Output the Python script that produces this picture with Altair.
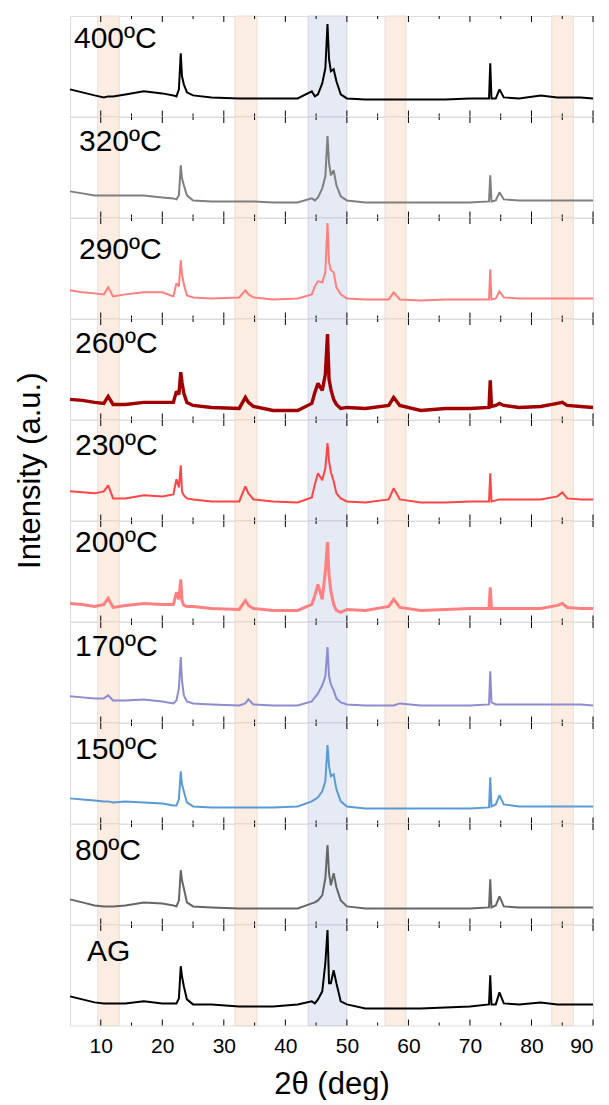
import altair as alt
import pandas as pd

# 2theta sampling positions (deg)
two_theta = [5, 7, 9, 10.5, 11.2, 12, 14, 17, 20, 21.8, 22.3, 22.7, 23.0, 23.2, 23.5, 24.0, 25, 28,
             32.5, 33.5, 34.0, 34.8, 38, 42, 44.3, 44.8, 45.3, 46.0, 46.5, 46.85, 47.1, 47.4, 47.85,
             48.3, 49.0, 50.0, 53, 56.8, 57.6, 58.6, 62, 66, 70, 73.1, 73.3, 73.5, 74.2, 74.8, 75.5,
             78, 81.5, 84.2, 85.0, 85.8, 88, 90]

labels = ["400ºC", "320ºC", "290ºC", "260ºC", "230ºC", "200ºC", "170ºC", "150ºC", "80ºC", "AG"]

i400 = [27, 24, 21, 19, 20, 20, 22, 25, 23, 21, 20, 27, 63, 40, 32, 24, 21, 19,
        18, 18, 18, 18, 18, 18, 25, 20, 22, 33, 48, 92, 57, 45, 47,
        35, 22, 18, 17, 17, 17, 17, 17, 17, 18, 18, 53, 18, 18, 27, 19,
        18, 21, 19, 19, 19, 19, 18]
i320 = [26, 24, 22, 22, 22, 22, 22, 22, 20, 19, 18, 22, 52, 39, 32, 22, 17, 16,
        16, 16, 16, 16, 15, 15, 19, 17, 20, 29, 41, 81, 54, 42, 47,
        32, 21, 17, 15, 15, 15, 15, 15, 15, 15, 16, 42, 16, 17, 25, 18,
        17, 17, 17, 17, 17, 17, 17]
i290 = [28, 26, 25, 24, 31, 22, 24, 26, 26, 22, 35, 32, 58, 44, 34, 23, 21, 20,
        21, 28, 24, 21, 19, 20, 24, 32, 37, 36, 46, 95, 56, 48, 46,
        31, 24, 20, 19, 19, 26, 19, 18, 19, 19, 19, 49, 19, 20, 27, 21,
        20, 20, 20, 20, 20, 20, 20]
i260 = [20, 19, 17, 16, 23, 15, 15, 17, 17, 17, 28, 25, 47, 37, 26, 17, 14, 12,
        11, 22, 17, 13, 9, 9, 16, 27, 36, 29, 45, 85, 40, 30, 20,
        15, 11, 12, 11, 14, 22, 14, 9, 11, 11, 12, 39, 13, 14, 16, 14,
        12, 13, 16, 17, 14, 13, 12]
i230 = [29, 28, 27, 29, 35, 22, 22, 25, 24, 26, 41, 33, 55, 29, 25, 22, 21, 19,
        19, 34, 27, 21, 19, 18, 23, 36, 47, 40, 52, 77, 59, 48, 39,
        27, 22, 19, 18, 21, 32, 21, 18, 18, 19, 19, 47, 19, 20, 21, 21,
        21, 21, 24, 28, 22, 21, 21]
i200 = [18, 17, 15, 17, 23, 14, 16, 18, 17, 17, 29, 22, 42, 21, 16, 15, 15, 13,
        12, 21, 16, 13, 11, 11, 17, 26, 37, 22, 50, 79, 46, 30, 17,
        11, 9, 12, 11, 15, 22, 14, 11, 12, 13, 13, 34, 13, 13, 13, 13,
        13, 13, 16, 18, 14, 13, 13]
i170 = [26, 25, 24, 24, 27, 22, 22, 23, 21, 19, 22, 34, 65, 42, 27, 21, 19, 18,
        17, 19, 23, 18, 17, 17, 21, 25, 29, 37, 46, 75, 46, 38, 32,
        24, 20, 18, 17, 17, 17, 19, 17, 17, 17, 18, 51, 20, 18, 18, 18,
        18, 18, 18, 18, 18, 18, 17]
i150 = [25, 24, 23, 22, 22, 21, 22, 21, 20, 18, 18, 24, 52, 39, 32, 21, 17, 16,
        16, 16, 16, 16, 16, 17, 22, 24, 26, 32, 42, 78, 57, 47, 49,
        34, 22, 17, 15, 15, 15, 15, 15, 15, 15, 16, 46, 17, 19, 28, 19,
        17, 17, 17, 17, 17, 17, 17]
i80 = [25, 22, 19, 18, 18, 18, 19, 22, 21, 19, 18, 24, 54, 44, 36, 22, 18, 17,
       16, 16, 16, 16, 16, 16, 21, 22, 24, 29, 46, 79, 51, 39, 51,
       37, 24, 18, 16, 16, 16, 16, 16, 16, 16, 17, 45, 17, 19, 28, 18,
       17, 17, 17, 17, 17, 17, 17]
iAG = [29, 26, 23, 22, 22, 22, 22, 24, 22, 22, 22, 27, 59, 49, 39, 26, 21, 21,
       19, 19, 19, 19, 19, 21, 24, 22, 26, 34, 62, 95, 42, 42, 55,
       42, 24, 21, 17, 17, 17, 17, 17, 18, 19, 21, 50, 21, 21, 33, 22,
       21, 23, 21, 21, 21, 21, 21]

series = [i400, i320, i290, i260, i230, i200, i170, i150, i80, iAG]

colors = ["#000000", "#7f7f7f", "#ff7f7f", "#a00000", "#ff4444",
          "#ff8080", "#8c8cd0", "#5b9bd5", "#666666", "#000000"]
widths = [2.0, 2.0, 2.0, 3.4, 2.0, 3.0, 2.0, 2.0, 2.0, 2.0]
label_dx = [4, 9, 9, 5, 5, 5, 5, 5, 5, 17]
label_base = [32, 34, 41, 34, 35, 31, 34, 36, 36, 36]

orange_start = [9.5, 31.8, 56.2, 83.3]
orange_end = [13.0, 35.4, 59.6, 86.8]
blue_start = [43.7]
blue_end = [50.0]

major_ticks = [10, 20, 30, 40, 50, 60, 70, 80, 90]
minor_ticks = [15, 25, 35, 45, 55, 65, 75, 85]

FONT = "Liberation Sans"
W, H = 523, 100.5

xscale = alt.Scale(domain=[5, 90], nice=False, zero=False)
yscale = alt.Scale(domain=[0, 100], nice=False, zero=False)

orange_df = pd.DataFrame({"s": orange_start, "e": orange_end})
blue_df = pd.DataFrame({"s": blue_start, "e": blue_end})
major_df = pd.DataFrame({"t": major_ticks})
minor_df = pd.DataFrame({"t": minor_ticks})


def panel(i):
    bottom = i == len(series) - 1
    if bottom:
        xaxis = alt.Axis(values=major_ticks, ticks=False, domain=False, grid=False,
                         labelFontSize=21, labelPadding=10, labelFlush=True, labelFont=FONT,
                         labelColor="black", title="2θ (deg)", titleFont=FONT,
                         titleFontSize=31, titleFontWeight="normal", titleColor="black",
                         titlePadding=13)
    else:
        xaxis = None
    if i == 4:
        yaxis = alt.Axis(labels=False, ticks=False, domain=False, grid=False, minExtent=0,
                         title="Intensity (a.u.)", titleFont=FONT, titleFontSize=31,
                         titleFontWeight="normal", titlePadding=24, titleColor="black")
    else:
        yaxis = None
    X = lambda f: alt.X(f, type="quantitative", scale=xscale, axis=xaxis)

    orange = alt.Chart(orange_df).mark_rect(fill="#fcede3", stroke="#e6d6cc", strokeWidth=0.8).encode(
        x=X("s"), x2="e")
    blue = alt.Chart(blue_df).mark_rect(fill="#e5eaf4", stroke="#c9cfdc", strokeWidth=0.8).encode(
        x=X("s"), x2="e")
    top_major = alt.Chart(major_df).mark_rule(color="black", strokeWidth=1).encode(
        x=X("t"), y=alt.value(0), y2=alt.value(6))
    bot_major = alt.Chart(major_df).mark_rule(color="black", strokeWidth=1).encode(
        x=X("t"), y=alt.value(H), y2=alt.value(H - 6))
    top_minor = alt.Chart(minor_df).mark_rule(color="black", strokeWidth=1).encode(
        x=X("t"), y=alt.value(0), y2=alt.value(3))
    bot_minor = alt.Chart(minor_df).mark_rule(color="black", strokeWidth=1).encode(
        x=X("t"), y=alt.value(H), y2=alt.value(H - 3))
    df = pd.DataFrame({"x": two_theta, "y": series[i]})
    line = alt.Chart(df).mark_line(color=colors[i], strokeWidth=widths[i],
                                   strokeJoin="miter", strokeMiterLimit=2).encode(
        x=X("x"), y=alt.Y("y:Q", scale=yscale, axis=yaxis))
    txt = alt.Chart(pd.DataFrame({"l": [labels[i]]})).mark_text(
        align="left", baseline="alphabetic", font=FONT, fontSize=30, color="black").encode(
        x=alt.value(label_dx[i]), y=alt.value(label_base[i]), text="l:N")
    return alt.layer(orange, blue, top_major, bot_major, top_minor, bot_minor, line, txt).properties(
        width=W, height=H)


chart = alt.vconcat(*[panel(i) for i in range(len(series))], spacing=0, bounds="flush").properties(
    padding={"left": 5, "top": 7, "right": 0, "bottom": 0}
).configure_view(stroke="#000000", strokeWidth=1.4).configure(background="white")

chart.save("out.html", embed_options={"renderer": "svg", "actions": False})
